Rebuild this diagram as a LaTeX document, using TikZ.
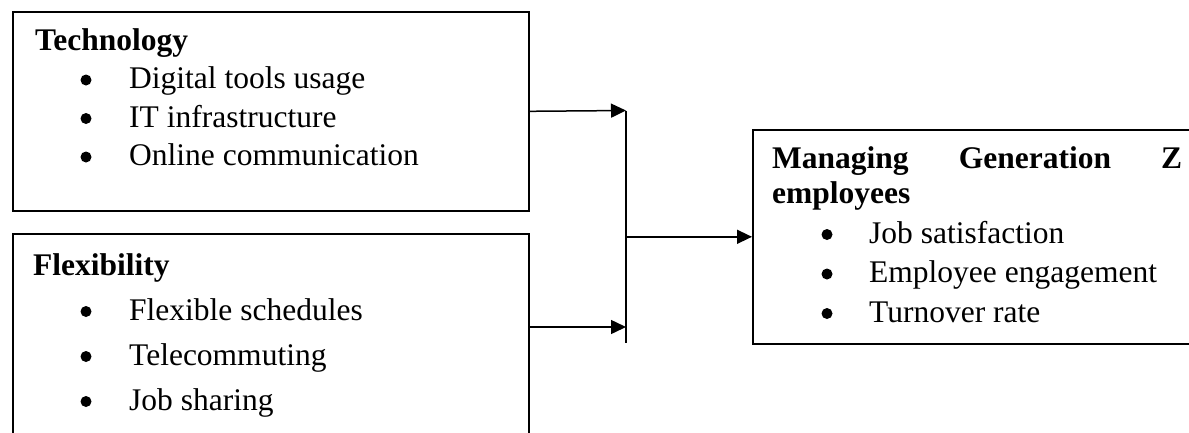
\documentclass[tikz,border=0pt]{standalone}
\usepackage{fontspec}
\setmainfont{Liberation Serif}
\usetikzlibrary{arrows.meta,positioning}

\begin{document}
\begin{tikzpicture}[x=1pt, y=-1pt, >={Triangle[length=15pt,width=14pt]},
    frame box/.style={draw, line width=1.6pt, inner sep=0pt, anchor=north west},
    head/.style={font=\fontsize{31.5}{36}\selectfont\bfseries, inner sep=0pt, anchor=base west},
    item/.style={font=\fontsize{31.5}{36}\selectfont, inner sep=0pt, anchor=base west},
    dot/.style={circle, fill, inner sep=0pt, minimum size=11pt},
    link/.style={line width=1.5pt}]

  \useasboundingbox (0,0) rectangle (1189,432);
  \clip (0,0) rectangle (1189,432);

  \node[frame box, minimum width=516pt, minimum height=199pt] (tech) at (12,11) {};
  \node[frame box, minimum width=516pt, minimum height=227pt] (flex) at (12,233) {};
  \node[frame box, minimum width=460pt, minimum height=214pt] (gen) at (752,129) {};

  \node[head] (techhead) at (35,50) {Technology};
  \foreach \txt [count=\i] in {Digital tools usage, IT infrastructure, Online communication} {
    \node[dot] (techdot\i) at (86, 41.5+38.5*\i) {};
    \node[item] (tech\i) at (129, 50+38.5*\i) {\txt};
  }

  \node[head] (flexhead) at (33,275) {Flexibility};
  \foreach \txt [count=\i] in {Flexible schedules, Telecommuting, Job sharing} {
    \node[dot] (flexdot\i) at (86, 266.5+45*\i) {};
    \node[item] (flex\i) at (129, 275+45*\i) {\txt};
  }

  \node[head] (genhead) at (772,168) {\makebox[410pt][s]{Managing Generation Z}};
  \node[head] (genhead2) at (772,203) {employees};
  \foreach \txt [count=\i] in {Job satisfaction, Employee engagement, Turnover rate} {
    \node[dot] (gendot\i) at (827, 195+39.5*\i) {};
    \node[item] (gen\i) at (869, 203.5+39.5*\i) {\txt};
  }

  \coordinate (top) at (626,110.5);
  \coordinate (bot) at (626,327);
  \coordinate (end) at (626,343);

  \draw[link,->] (tech.east) -- (top);
  \draw[link,->] (flex.east |- bot) -- (bot);
  \draw[link] (top) -- (end);
  \draw[link,->] (top |- gen.west) -- (gen.west);
\end{tikzpicture}
\end{document}
